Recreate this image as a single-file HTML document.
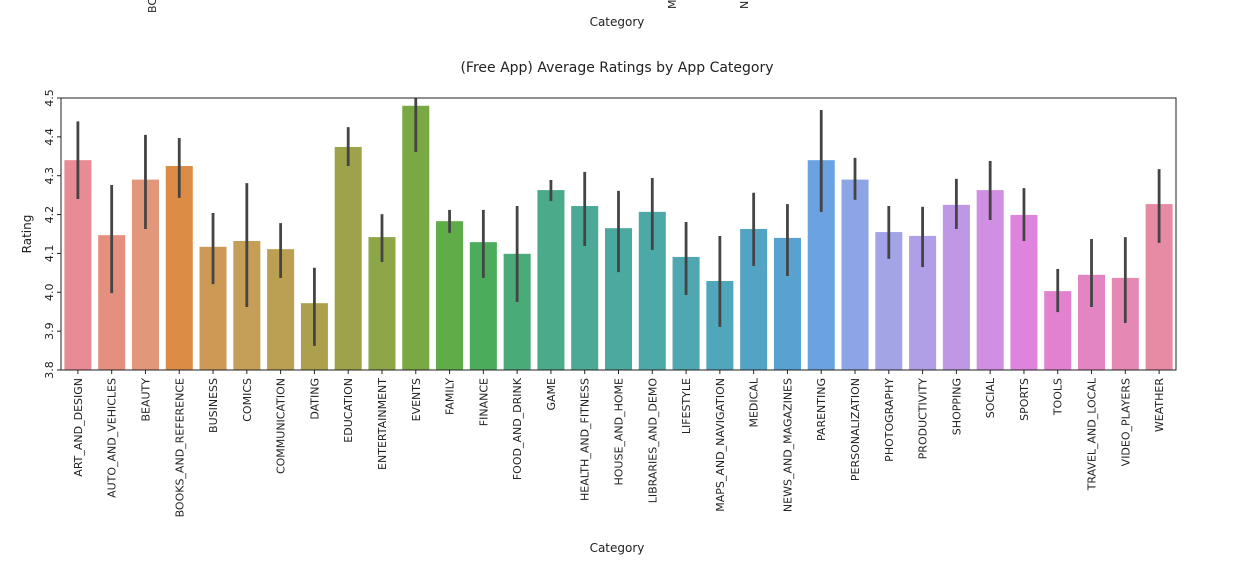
<!DOCTYPE html>
<html><head><meta charset="utf-8">
<style>
body{margin:0;background:#fff;width:1253px;height:566px;overflow:hidden}
svg text{font-family:"DejaVu Sans","Liberation Sans",sans-serif;fill:#222}
</style></head>
<body>
<svg id="chart" width="1253" height="566" xmlns="http://www.w3.org/2000/svg">
<text x="156" y="13" font-size="11" transform="rotate(-90 156 13)" text-anchor="start">BOOKS_AND_REFERENCE</text>
<text x="676" y="9" font-size="11" transform="rotate(-90 676 9)" text-anchor="start">MAPS_AND_NAVIGATION</text>
<text x="748" y="9" font-size="11" transform="rotate(-90 748 9)" text-anchor="start">NEWS_AND_MAGAZINES</text>
<text x="617" y="26" font-size="12" text-anchor="middle">Category</text>
<text x="617" y="72" font-size="14" text-anchor="middle">(Free App) Average Ratings by App Category</text>
<text x="31" y="234" font-size="12" text-anchor="middle" transform="rotate(-90 31 234)">Rating</text>
<text x="617" y="552" font-size="12" text-anchor="middle">Category</text>
<g id="plot"></g>
</svg>
<script>
const categories=["ART_AND_DESIGN","AUTO_AND_VEHICLES","BEAUTY","BOOKS_AND_REFERENCE","BUSINESS","COMICS","COMMUNICATION","DATING","EDUCATION","ENTERTAINMENT","EVENTS","FAMILY","FINANCE","FOOD_AND_DRINK","GAME","HEALTH_AND_FITNESS","HOUSE_AND_HOME","LIBRARIES_AND_DEMO","LIFESTYLE","MAPS_AND_NAVIGATION","MEDICAL","NEWS_AND_MAGAZINES","PARENTING","PERSONALIZATION","PHOTOGRAPHY","PRODUCTIVITY","SHOPPING","SOCIAL","SPORTS","TOOLS","TRAVEL_AND_LOCAL","VIDEO_PLAYERS","WEATHER"];
const ratings=[4.34,4.147,4.29,4.325,4.117,4.132,4.111,3.972,4.374,4.142,4.48,4.183,4.129,4.099,4.263,4.222,4.165,4.207,4.091,4.029,4.163,4.14,4.34,4.29,4.155,4.145,4.225,4.263,4.199,4.003,4.045,4.037,4.227];
const errLow=[4.24,3.998,4.163,4.243,4.021,3.962,4.037,3.862,4.325,4.078,4.361,4.153,4.037,3.975,4.235,4.119,4.052,4.109,3.993,3.911,4.068,4.042,4.207,4.238,4.086,4.065,4.163,4.186,4.132,3.949,3.962,3.921,4.127];
const errHigh=[4.44,4.276,4.405,4.397,4.204,4.281,4.178,4.063,4.425,4.201,4.52,4.212,4.212,4.222,4.289,4.31,4.261,4.294,4.181,4.145,4.256,4.227,4.469,4.346,4.222,4.22,4.292,4.338,4.268,4.06,4.137,4.142,4.317];
const yTicks=[3.8,3.9,4.0,4.1,4.2,4.3,4.4,4.5];
const colors=["#e88b94","#e58f7f","#e2977a","#dd8c45","#cc9a54","#c59e57","#bb9f52","#aca04f","#9ea34b","#8da648","#7aa843","#5fac48","#4bad5c","#49ab78","#4aaa8a","#4ba996","#4ca9a0","#4da8a8","#4ea7b1","#50a6ba","#53a4c4","#57a2d0","#6aa2e2","#8da4e6","#a3a4e6","#b09fe6","#bf98e5","#d08fe2","#de84de","#e281d0","#e485c3","#e588b4","#e78ba4"];
const L=61,R=1176,T=98,B=370,ymin=3.8,ymax=4.5;
const NS="http://www.w3.org/2000/svg";
const g=document.getElementById('plot');
const bw=(R-L)/categories.length;
function y(v){return B-(v-ymin)/(ymax-ymin)*(B-T);}
function xc(i){return L+bw*(i+0.5);}
function mk(t,a){const e=document.createElementNS(NS,t);for(const k in a)e.setAttribute(k,a[k]);g.appendChild(e);return e;}
categories.forEach((c,i)=>{
  const r=mk('rect',{x:xc(i)-bw*0.4,y:y(ratings[i]),width:bw*0.8,height:B-y(ratings[i]),fill:colors[i]});
  
  
  const l=mk('line',{x1:xc(i),x2:xc(i),y1:Math.max(T,y(errHigh[i])),y2:y(errLow[i]),stroke:'#444','stroke-width':2.8});
  
  
  mk('line',{x1:xc(i),x2:xc(i),y1:B,y2:B+4,stroke:'#222'});
  const t=mk('text',{x:xc(i)+4,y:B+8,'font-size':11,'text-anchor':'end',transform:`rotate(-90 ${xc(i)+4} ${B+8})`});
  t.textContent=c;
  
  
});
yTicks.forEach(v=>{
  mk('line',{x1:L-4,x2:L,y1:y(v),y2:y(v),stroke:'#222'});
  const t=mk('text',{x:L-8,y:y(v),'font-size':11,'text-anchor':'middle',transform:`rotate(-90 ${L-8} ${y(v)})`});
  t.textContent=v.toFixed(1);
  
  
});
const f=mk('rect',{x:L,y:T,width:R-L,height:B-T,fill:'none',stroke:'#222','stroke-width':1});


</script>
</body></html>
